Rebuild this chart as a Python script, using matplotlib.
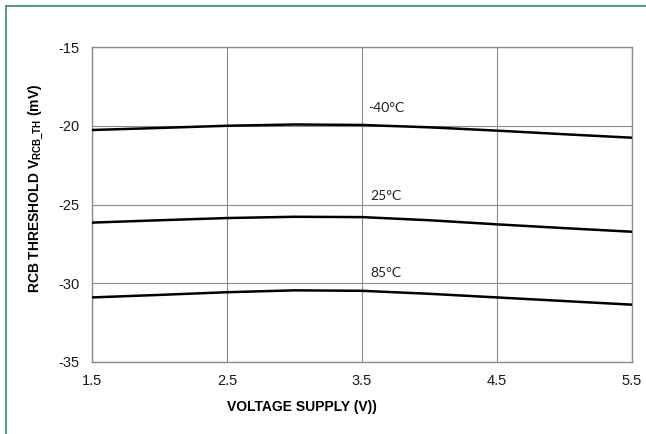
import matplotlib
matplotlib.use("Agg")
import matplotlib.pyplot as plt
from matplotlib.lines import Line2D

# Threshold vs supply voltage at three temperatures
supply_v = [1.5, 2.0, 2.5, 3.0, 3.5, 4.0, 4.5, 5.0, 5.5]
th_m40 = [-20.27, -20.14, -20.0, -19.92, -19.95, -20.1, -20.31, -20.54, -20.76]
th_25 = [-26.15, -26.0, -25.86, -25.78, -25.8, -26.0, -26.26, -26.5, -26.73]
th_85 = [-30.9, -30.74, -30.57, -30.45, -30.48, -30.67, -30.9, -31.13, -31.36]

temp_labels = ["-40°C", "25°C", "85°C"]
label_x = [3.68, 3.68, 3.68]
label_y = [-18.85, -24.45, -29.35]

x_ticks = [1.5, 2.5, 3.5, 4.5, 5.5]
y_ticks = [-35, -30, -25, -20, -15]

plt.rcParams["font.family"] = "Liberation Sans"
plt.rcParams["mathtext.fontset"] = "custom"
plt.rcParams["mathtext.rm"] = "Liberation Sans:bold"

fig = plt.figure(figsize=(6.46, 4.34), dpi=100)
ax = fig.add_axes([0.1424, 0.1659, 0.8359, 0.7258])

for series in (th_m40, th_25, th_85):
    ax.plot(supply_v, series, color="black", lw=1.8, solid_joinstyle="round", zorder=3)

for txt, x, y in zip(temp_labels, label_x, label_y):
    ax.text(x, y, txt, ha="center", va="center", fontsize=10, family="Lato", color="#222222")

ax.set_xlim(1.5, 5.5)
ax.set_ylim(-35, -15)
ax.set_xticks(x_ticks)
ax.set_yticks(y_ticks)
ax.set_xticklabels([str(v) for v in x_ticks])
ax.set_yticklabels([str(v) for v in y_ticks])
ax.grid(True, color="#8c8c8c", lw=0.8)
ax.set_axisbelow(True)
for spine in ax.spines.values():
    spine.set_color("#8c8c8c")
    spine.set_linewidth(1.0)
ax.tick_params(length=0, pad=9, labelsize=10.5, colors="#1a1a1a")

fig.text(0.056, 0.567, r"RCB THRESHOLD V$_\mathrm{RCB\_TH}$ (mV)", rotation=90,
         ha="center", va="center", fontsize=10, fontweight="bold")
fig.text(0.467, 0.062, "VOLTAGE SUPPLY (V))", ha="center", va="center",
         fontsize=10, fontweight="bold")

# Green frame along the top and left edges
fig.add_artist(Line2D([0.0093, 1.0], [0.986, 0.986], transform=fig.transFigure,
                      color="#3a9a6a", lw=1.3))
fig.add_artist(Line2D([0.0093, 0.0093], [0.0, 0.986], transform=fig.transFigure,
                      color="#3a9a6a", lw=1.3))

fig.savefig("out.png", dpi=100, facecolor="white")
